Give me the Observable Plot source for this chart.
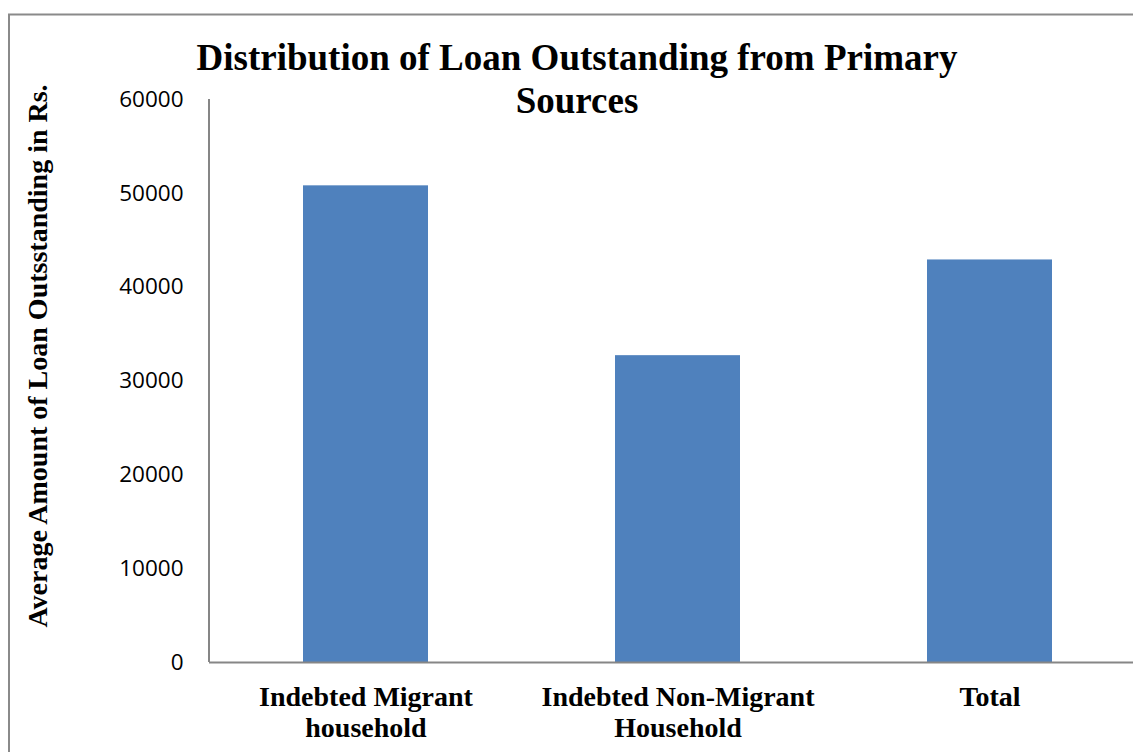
<!DOCTYPE html>
<html>
<head>
<meta charset="utf-8">
<script src="https://cdn.jsdelivr.net/npm/d3@7"></script>
<script src="https://cdn.jsdelivr.net/npm/@observablehq/plot@0.6"></script>
<style>
  html, body { margin: 0; padding: 0; background: #fff; }
  #chart { width: 1133px; height: 752px; }
</style>
</head>
<body>
<div id="chart"></div>
<script>
const categories = ["Indebted Migrant household", "Indebted Non-Migrant Household", "Total"];
const values = [50800, 32700, 42900];
const tickLabels = ["Indebted Migrant\nhousehold", "Indebted Non-Migrant\nHousehold", "Total"];
const yTicks = [0, 10000, 20000, 30000, 40000, 50000, 60000];
const titleLines = ["Distribution of Loan Outstanding from Primary", "Sources"];
const yLabel = "Average Amount of Loan Outsstanding in Rs.";

const data = categories.map((c, i) => ({category: c, value: values[i]}));
const serif = "'Liberation Serif', 'Times New Roman', serif";

const chart = Plot.plot({
  width: 1133,
  height: 752,
  marginTop: 99,
  marginBottom: 90,
  marginLeft: 209,
  marginRight: 0,
  style: {background: "#fff", overflow: "visible"},
  x: {domain: categories, range: [209.5, 1145.5], paddingInner: 0.6, paddingOuter: 0.3},
  y: {domain: [0, 60000]},
  marks: [
    Plot.barY(data, {x: "category", y: "value", fill: "#4F81BD"}),
    Plot.ruleY([0], {stroke: "#868686", strokeWidth: 2}),
    Plot.axisY({ticks: yTicks, tickSize: 0, tickPadding: 26, tickFormat: d => String(d),
      fontSize: 22.5, fontFamily: "'Open Sans', sans-serif", fill: "#000", label: null}),
    Plot.axisX({tickSize: 0, tickPadding: 22, tickFormat: d => tickLabels[categories.indexOf(d)],
      fontSize: 28, fontFamily: serif, fontWeight: "bold", lineHeight: 1.1, fill: "#000", label: null})
  ]
});

document.getElementById("chart").appendChild(chart);

const svg = d3.select(chart);
const y = chart.scale("y");
// y axis line
svg.append("line")
  .attr("x1", 209).attr("x2", 209)
  .attr("y1", y.apply(60000)).attr("y2", y.apply(0))
  .attr("stroke", "#868686").attr("stroke-width", 2);
// outer chart border (top & left visible)
svg.append("path")
  .attr("d", "M9,752V14.5H1133")
  .attr("fill", "none").attr("stroke", "#8a8a8a").attr("stroke-width", 2);
// title
svg.append("g")
  .attr("font-family", serif).attr("font-weight", "bold").attr("font-size", 37)
  .attr("text-anchor", "middle").attr("fill", "#000")
  .selectAll("text").data(titleLines).join("text")
  .attr("x", 577).attr("y", (d, i) => 70 + i * 43)
  .text(d => d);
// y label
svg.append("text")
  .attr("transform", "translate(47,356) rotate(-90)")
  .attr("text-anchor", "middle")
  .attr("font-family", serif).attr("font-weight", "bold").attr("font-size", 28)
  .attr("fill", "#000")
  .text(yLabel);
</script>
</body>
</html>
